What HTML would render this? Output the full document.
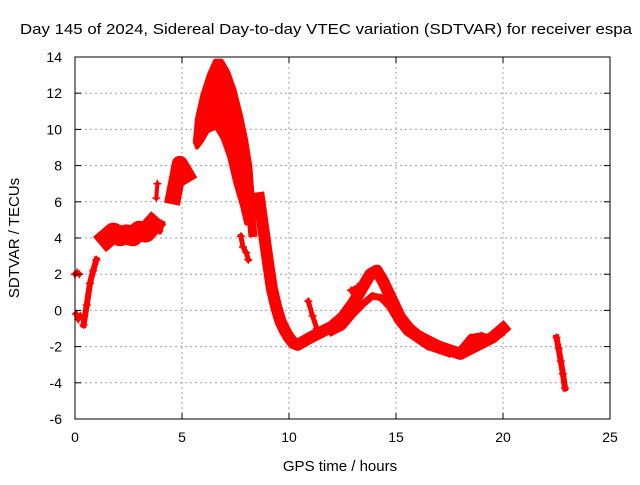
<!DOCTYPE html>
<html><head><meta charset="utf-8"><style>
body{margin:0;background:#fff;}
svg text{font-family:"Liberation Sans",sans-serif;font-size:14px;fill:#000;}
</style></head><body>
<svg width="640" height="480" xmlns="http://www.w3.org/2000/svg">
<rect width="640" height="480" fill="#fff"/>
<g id="grid"></g>
<g id="marks"></g>
<rect x="75" y="57" width="535" height="362" fill="none" stroke="#000" stroke-width="1"/>
<g id="ticks"></g>
<text x="20" y="34" textLength="612" lengthAdjust="spacingAndGlyphs" style="font-size:15px">Day 145 of 2024, Sidereal Day-to-day VTEC variation (SDTVAR) for receiver espa</text>
<text x="340" y="471" text-anchor="middle" style="font-size:15px">GPS time / hours</text>
<text x="0" y="0" text-anchor="middle" transform="translate(19,238) rotate(-90)" style="font-size:15px">SDTVAR / TECUs</text>
</svg>
<script>
const xTicks=[0,5,10,15,20,25];
const yTicks=[-6,-4,-2,0,2,4,6,8,10,12,14];
const s1H=[0.0,0.1,0.2];            const s1V=[2.0,2.1,2.0];
const s2H=[0.05,0.15,0.25];         const s2V=[-0.2,-0.5,-0.3];
const s3H=[0.4,0.55,0.7,0.85,1.0];  const s3V=[-0.8,0.3,1.5,2.2,2.8];
const s4H=[1.5,1.8,2.1,2.4,2.7,3.0,3.3,3.6];       const s4V=[4.0,4.3,4.1,4.2,4.1,4.4,4.3,4.7];
const s5H=[3.95,4.05];              const s5V=[4.4,4.8];
const s6H=[3.8,3.85];               const s6V=[6.2,7.0];
const s7H=[4.6,4.75,4.9,5.05,5.2];  const s7V=[6.3,7.2,8.1,7.8,7.5];
// peak region outline (hours, values) traced clockwise
const peakH=[5.6,5.7,5.95,6.25,6.55,6.85,7.15,7.45,7.75,8.0,8.2,8.3,8.3,8.0,7.8,7.5,7.2,6.9,6.6,6.2,5.9,5.7];
const peakV=[9.3,10.6,11.9,13.0,13.8,13.8,13.2,12.2,10.8,9.4,7.9,6.2,4.8,4.8,5.8,7.0,8.5,9.5,10.1,9.9,9.3,9.0];
const armH=[7.75,7.85,8.0,8.1];     const armV=[4.1,3.5,3.2,2.8];
const clH=[8.1,8.3];                const clV=[6.8,4.3];
const dropH=[8.6,8.8,9.0,9.2,9.4,9.6,9.8,10.0,10.2,10.4,10.7,11.0,11.5,12.0,12.5,13.0,13.5,13.8,14.1,14.4,14.8,15.2,15.6,16.0,16.5,17.0,17.5,18.0,18.5,19.0,19.5,20.0];
const dropV=[6.2,4.5,2.8,1.2,0.2,-0.6,-1.1,-1.5,-1.8,-1.9,-1.7,-1.5,-1.2,-0.9,-0.4,0.4,1.4,2.0,2.2,1.6,0.6,-0.4,-1.0,-1.4,-1.7,-2.0,-2.2,-2.4,-2.1,-1.8,-1.5,-1.0];
const lowH=[12.0,12.5,13.0,13.5,13.9,14.3,14.7,15.1,15.5,16.0,16.5,17.0,17.5,18.0,18.5,19.0,19.5,19.9];
const lowV=[-1.2,-0.9,-0.2,0.4,0.8,0.7,0.2,-0.6,-1.2,-1.6,-2.0,-2.2,-2.4,-2.2,-1.5,-1.4,-1.6,-1.3];
const spikeH=[10.9,11.1,11.3];      const spikeV=[0.5,-0.3,-1.0];
const bitH=[12.9,13.2];             const bitV=[1.1,1.3];
const tailH=[22.5,22.6,22.7,22.8,22.9]; const tailV=[-1.5,-2.1,-2.8,-3.5,-4.3];
const series=[[s1H,s1V,5],[s2H,s2V,5],[s3H,s3V,6],[s4H,s4V,20],[s5H,s5V,6],[s6H,s6V,4],[s7H,s7V,16],
 [armH,armV,5],[clH,clV,9],[dropH,dropV,12],[lowH,lowV,7],[spikeH,spikeV,5],[bitH,bitV,5],[tailH,tailV,6]];
const X=h=>75+h*21.4, Y=v=>57+(14-v)*18.1;
const NS='http://www.w3.org/2000/svg';
const grid=document.getElementById('grid'),ticks=document.getElementById('ticks'),marks=document.getElementById('marks');
function mk(tag,a,p){const e=document.createElementNS(NS,tag);for(const k in a)e.setAttribute(k,a[k]);p.appendChild(e);return e;}
xTicks.forEach(t=>{const x=X(t);
 if(t>0&&t<25){const l=mk('line',{x1:x,x2:x,y1:57,y2:419,stroke:'#a0a0a0','stroke-dasharray':'2,3'},grid);
 
 }
 mk('line',{x1:x,x2:x,y1:419,y2:413,stroke:'#000'},ticks);mk('line',{x1:x,x2:x,y1:57,y2:63,stroke:'#000'},ticks);
 const tx=mk('text',{x:x,y:442,'text-anchor':'middle'},ticks);tx.textContent=t;
 
 });
yTicks.forEach(t=>{const y=Y(t);
 if(t>-6&&t<14){const l=mk('line',{x1:75,x2:610,y1:y,y2:y,stroke:'#a0a0a0','stroke-dasharray':'2,3'},grid);
 
 }
 mk('line',{x1:75,x2:81,y1:y,y2:y,stroke:'#000'},ticks);mk('line',{x1:610,x2:604,y1:y,y2:y,stroke:'#000'},ticks);
 const tx=mk('text',{x:62,y:y+5,'text-anchor':'end'},ticks);tx.textContent=t;
 
 });
const pk=mk('polygon',{points:peakH.map((h,i)=>X(h)+','+Y(peakV[i])).join(' '),fill:'#ff0000',stroke:'#ff0000','stroke-width':4,'stroke-linejoin':'round'},marks);


series.forEach(([H,V,w])=>{
 const pts=H.map((h,i)=>X(h)+','+Y(V[i])).join(' ');
 const pl=mk('polyline',{points:pts,fill:'none',stroke:'#ff0000','stroke-width':w,'stroke-linejoin':'round','stroke-linecap':'square'},marks);
 
 
 H.forEach((h,i)=>{const x=X(h),y=Y(V[i]);
  const p=mk('path',{d:`M${x-4} ${y}H${x+4}M${x} ${y-4}V${y+4}`,stroke:'#ff0000','stroke-width':1.5},marks);
  
  });
});
</script>
</body></html>
